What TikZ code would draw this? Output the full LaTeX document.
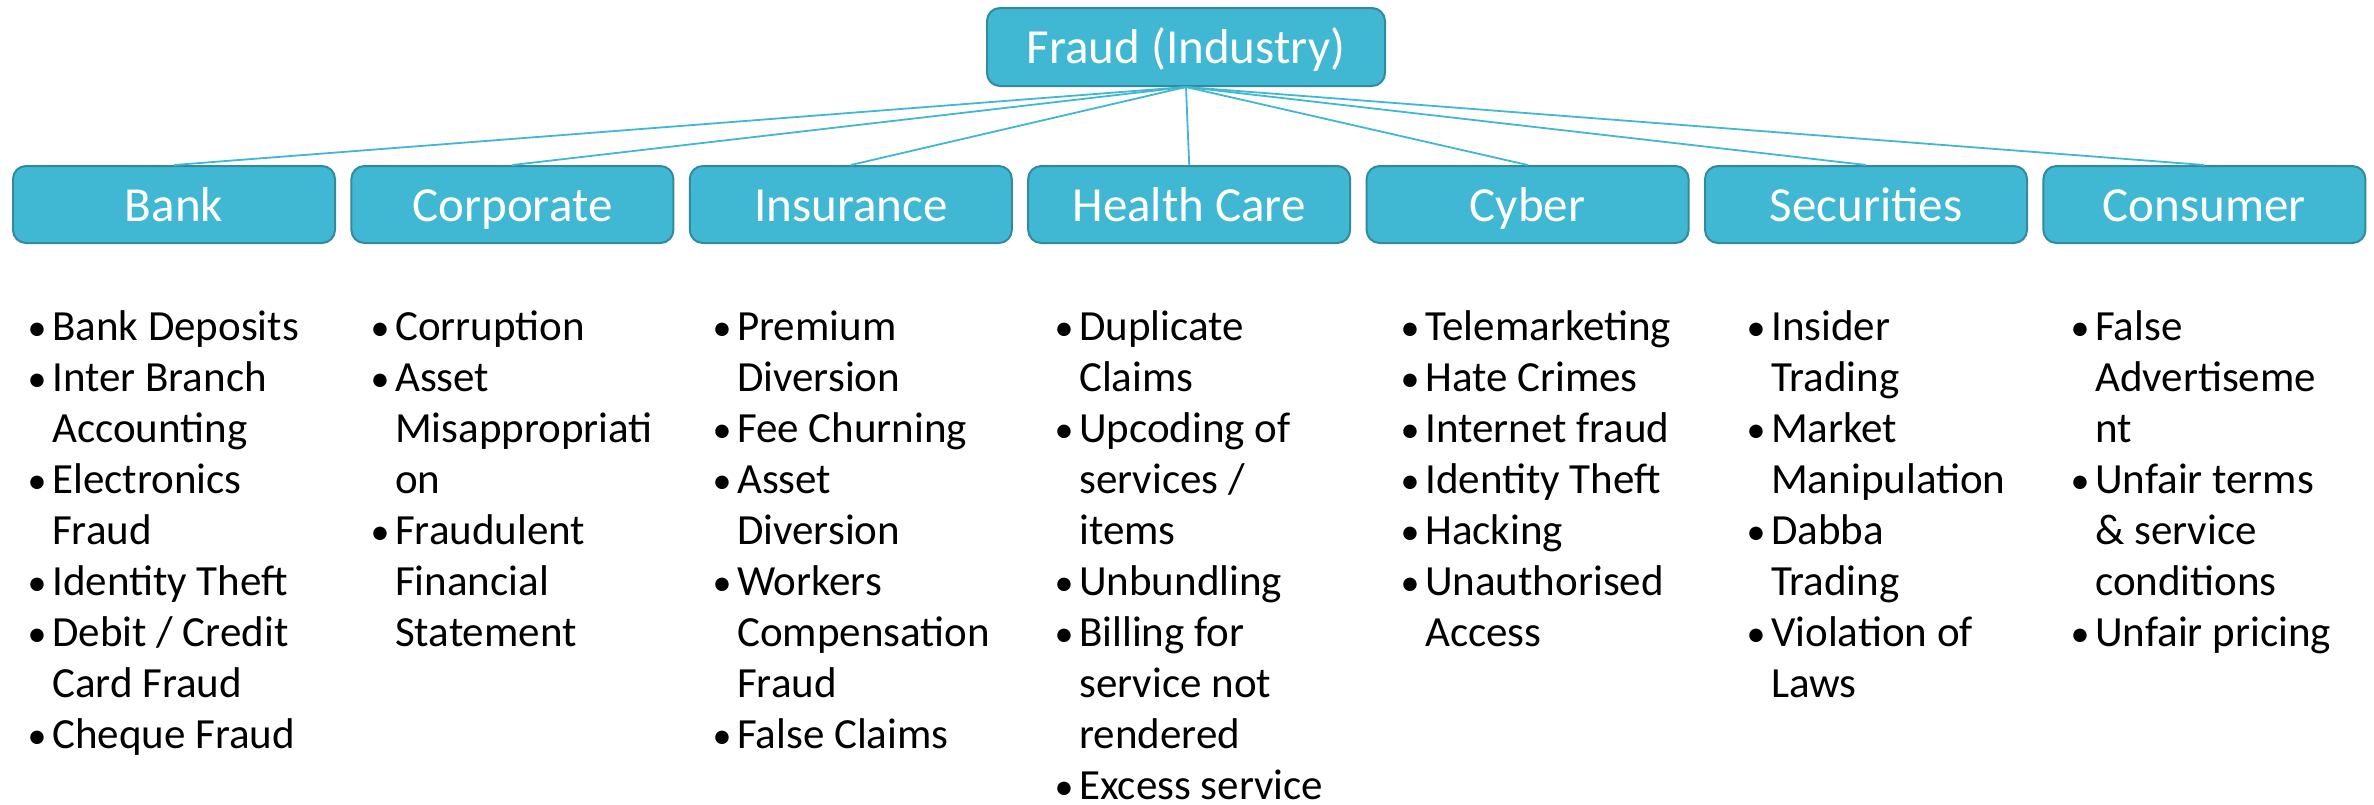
\documentclass[tikz,border=0pt]{standalone}
\usepackage{fontspec}
\setmainfont{Carlito}
\definecolor{boxfill}{RGB}{65,184,211}
\definecolor{boxline}{RGB}{50,138,158}
\newcommand\fbItem[4]{%
  \node[bulletmark] (#1b) at ({#2-15}, {340+51.1*(#3-1)}) {\textbullet};
  \node[itemtext] (#1) at (#2, {340+51.1*(#3-1)}) {#4};}
\newcommand\fcItem[4]{%
  \node[itemtext] (#1) at (#2, {340+51.1*(#3-1)}) {#4};}
\begin{document}
\begin{tikzpicture}[x=1pt,y=-1pt,
  catbox/.style={draw=boxline, fill=boxfill, line width=2pt, rounded corners=13pt,
    minimum width=322pt, minimum height=77pt, inner sep=0pt, text=white,
    text height=40pt, text depth=7pt,
    font=\fontsize{49}{58}\selectfont},
  link/.style={draw=boxfill, line width=1.8pt},
  itemtext/.style={anchor=base west, inner sep=0pt, font=\fontsize{43}{51}\selectfont},
  bulletmark/.style={anchor=base, inner sep=0pt, font=\fontsize{38}{51}\selectfont}]
\useasboundingbox (0,0) rectangle (2374,804);
\fill[white] (0,0) rectangle (2374,804);
\node[catbox, minimum width=398pt, minimum height=78pt] (top) at (1186,47) {Fraud (Industry)};
\foreach \nm/\lab [count=\i from 0] in {bank/Bank, corp/Corporate, ins/Insurance, health/Health Care, cyber/Cyber, sec/Securities, cons/Consumer}
  \node[catbox] (\nm) at ({174+338.4*\i}, 204.5) {\lab};
\foreach \nm in {bank, corp, ins, health, cyber, sec, cons}
  \draw[link] (top.south) -- (\nm.north);
% Bank
\fbItem{ba1}{52}{1}{Bank Deposits}
\fbItem{ba2}{52}{2}{Inter Branch}
\fcItem{ba3}{52}{3}{Accounting}
\fbItem{ba4}{52}{4}{Electronics}
\fcItem{ba5}{52}{5}{Fraud}
\fbItem{ba6}{52}{6}{Identity Theft}
\fbItem{ba7}{52}{7}{Debit / Credit}
\fcItem{ba8}{52}{8}{Card Fraud}
\fbItem{ba9}{52}{9}{Cheque Fraud}
% Corporate
\fbItem{co1}{395}{1}{Corruption}
\fbItem{co2}{395}{2}{Asset}
\fcItem{co3}{395}{3}{Misappropriati}
\fcItem{co4}{395}{4}{on}
\fbItem{co5}{395}{5}{Fraudulent}
\fcItem{co6}{395}{6}{Financial}
\fcItem{co7}{395}{7}{Statement}
% Insurance
\fbItem{in1}{737}{1}{Premium}
\fcItem{in2}{737}{2}{Diversion}
\fbItem{in3}{737}{3}{Fee Churning}
\fbItem{in4}{737}{4}{Asset}
\fcItem{in5}{737}{5}{Diversion}
\fbItem{in6}{737}{6}{Workers}
\fcItem{in7}{737}{7}{Compensation}
\fcItem{in8}{737}{8}{Fraud}
\fbItem{in9}{737}{9}{False Claims}
% Health Care
\fbItem{he1}{1079}{1}{Duplicate}
\fcItem{he2}{1079}{2}{Claims}
\fbItem{he3}{1079}{3}{Upcoding of}
\fcItem{he4}{1079}{4}{services /}
\fcItem{he5}{1079}{5}{items}
\fbItem{he6}{1079}{6}{Unbundling}
\fbItem{he7}{1079}{7}{Billing for}
\fcItem{he8}{1079}{8}{service not}
\fcItem{he9}{1079}{9}{rendered}
\fbItem{he10}{1079}{10}{Excess service}
% Cyber
\fbItem{cy1}{1425}{1}{Telemarketing}
\fbItem{cy2}{1425}{2}{Hate Crimes}
\fbItem{cy3}{1425}{3}{Internet fraud}
\fbItem{cy4}{1425}{4}{Identity Theft}
\fbItem{cy5}{1425}{5}{Hacking}
\fbItem{cy6}{1425}{6}{Unauthorised}
\fcItem{cy7}{1425}{7}{Access}
% Securities
\fbItem{se1}{1771}{1}{Insider}
\fcItem{se2}{1771}{2}{Trading}
\fbItem{se3}{1771}{3}{Market}
\fcItem{se4}{1771}{4}{Manipulation}
\fbItem{se5}{1771}{5}{Dabba}
\fcItem{se6}{1771}{6}{Trading}
\fbItem{se7}{1771}{7}{Violation of}
\fcItem{se8}{1771}{8}{Laws}
% Consumer
\fbItem{cn1}{2095}{1}{False}
\fcItem{cn2}{2095}{2}{Advertiseme}
\fcItem{cn3}{2095}{3}{nt}
\fbItem{cn4}{2095}{4}{Unfair terms}
\fcItem{cn5}{2095}{5}{\& service}
\fcItem{cn6}{2095}{6}{conditions}
\fbItem{cn7}{2095}{7}{Unfair pricing}
\end{tikzpicture}
\end{document}
